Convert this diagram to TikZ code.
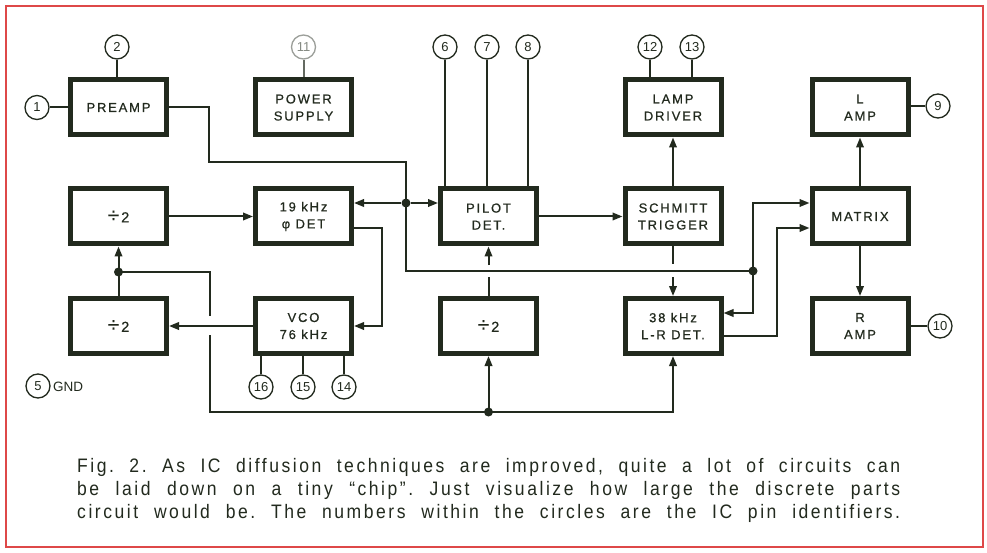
\documentclass[tikz,border=0pt]{standalone}
\usepackage{fontspec}
\setmainfont{Liberation Sans}
\newfontfamily\boxfont[LetterSpace=14,FakeBold=0.6]{Liberation Sans}
\newfontfamily\capfont[LetterSpace=13,FakeStretch=0.9]{Liberation Sans}
\usetikzlibrary{arrows.meta,calc}
\definecolor{ink}{RGB}{34,42,30}
\definecolor{frame}{RGB}{222,72,72}
\newcommand{\divtwo}{{\fontsize{21}{17}\selectfont ÷}\kern2pt{\fontsize{14.5}{17}\selectfont 2}}
\begin{document}
\frenchspacing
\begin{tikzpicture}[x=1pt,y=-1pt,
  blk/.style={draw=ink, line width=5pt, fill=white, minimum width=96pt, minimum height=55pt,
    inner sep=0pt, align=center, text=ink, font=\boxfont\fontsize{13}{17}\selectfont},
  pin/.style={circle, draw=ink, line width=1.3pt, minimum size=24pt, inner sep=0pt, fill=white,
    text=ink, font=\fontsize{13}{13}\selectfont},
  wire/.style={draw=ink, line width=2pt},
  arr/.style={wire, -{Triangle[length=10pt,width=7.5pt]}},
  dot/.style={circle, fill=ink, inner sep=0pt, minimum size=9pt},
  capline/.style={anchor=base west, inner sep=0pt, text=ink, font=\capfont\fontsize{19.5}{23}\selectfont}]
\useasboundingbox (0,0) rectangle (987,553);
\fill[white] (0,0) rectangle (987,553);
\draw[frame, line width=2.5pt] (6,6) rectangle (983,547);

% blocks
\node[blk] (preamp) at (118.5,107.5) {PREAMP};
\node[blk] (power)  at (303.5,107.5) {POWER\\SUPPLY};
\node[blk] (div2a)  at (118.5,216.5) {\divtwo};
\node[blk] (det19)  at (303.5,216.5) {19 kHz\\φ DET};
\node[blk] (pilot)  at (488.5,216.5) {PILOT\\DET.};
\node[blk] (schmitt) at (673,216.5) {SCHMITT\\TRIGGER};
\node[blk] (ldrv)   at (673,107.5) {LAMP\\DRIVER};
\node[blk] (lamp)   at (860,107.5) {L\\AMP};
\node[blk] (mtx)    at (860,216.5) {MATRIX};
\node[blk] (ramp)   at (860,326) {R\\AMP};
\node[blk] (lr38)   at (673,326) {38 kHz\\L-R DET.};
\node[blk] (div2m)  at (488.5,326) {\divtwo};
\node[blk] (vco)    at (303.5,326) {VCO\\76 kHz};
\node[blk] (div2b)  at (118.5,326) {\divtwo};

% pins
\node[pin] (p1)  at (37,107.5) {1};
\node[pin] (p2)  at (117,47) {2};
\node[pin, draw=ink!45, text=ink!55] (p11) at (303.5,47) {11};
\node[pin] (p6)  at (445,47) {6};
\node[pin] (p7)  at (487,47) {7};
\node[pin] (p8)  at (528,47) {8};
\node[pin] (p12) at (650,47) {12};
\node[pin] (p13) at (692,47) {13};
\node[pin] (p9)  at (938,106) {9};
\node[pin] (p10) at (940,326) {10};
\node[pin] (p16) at (261,387) {16};
\node[pin] (p15) at (303,387) {15};
\node[pin] (p14) at (344,387) {14};
\node[pin] (p5)  at (38,386) {5};
\node[anchor=west, inner sep=0pt, text=ink, font=\fontsize{13.5}{13.5}\selectfont] (gnd) at (53,386.5) {GND};

% pin wires
\draw[wire] (p1) -- (p1 -| preamp.west);
\draw[wire] (p2) -- (p2 |- preamp.north);
\draw[wire, draw=ink!70] (p11) -- (p11 |- power.north);
\foreach \p in {p6,p7,p8} \draw[wire, line width=1.6pt] (\p) -- (\p |- pilot.north);
\foreach \p in {p12,p13} \draw[wire] (\p) -- (\p |- ldrv.north);
\draw[wire] (p9) -- (p9 -| lamp.east);
\draw[wire] (p10) -- (p10 -| ramp.east);
\foreach \p in {p16,p15,p14} \draw[wire] (\p) -- (\p |- vco.south);

% junctions
\node[dot] (j1) at (406,203) {};
\node[dot] (j2) at (753,271) {};
\node[dot] (j3) at (118.5,272) {};
\node[dot] (j4) at (488.5,412) {};

% signal paths
\draw[wire] (preamp.east) -| (209,162) -| (j1.center);
\draw[arr] (j1) -- (j1 -| det19.east);
\draw[arr] (j1) -- (j1 -| pilot.west);
\draw[wire] (j1.center) |- (j2.center);
\draw[arr] (j2.center) |- (mtx.west |- 0,203);
\draw[arr] (j2.center) |- (lr38.east |- 0,313);
\draw[arr] (lr38.east |- 0,336) -| (777,228) -- (mtx.west |- 0,228);
\draw[arr] (mtx.north) -- (lamp.south);
\draw[arr] (mtx.south) -- (ramp.north);
\draw[arr] (schmitt.north) -- (ldrv.south);
\draw[wire] (schmitt.south) -- (schmitt.south |- 0,264);
\draw[arr] (schmitt.south |- 0,277) -- (lr38.north);
\draw[arr] (pilot.east) -- (schmitt.west);
\draw[arr] (div2a.east) -- (det19.west);
\draw[arr] (det19.east |- 0,228) -| (382,326) -- (vco.east);
\draw[arr] (vco.west) -- (div2b.east);
\draw[arr] (div2b.north) -- (div2a.south);
\draw[wire] (j3.center) -| (210,316);
\draw[wire] (210,335) |- (j4.center);
\draw[arr] (j4.center) -- (div2m.south);
\draw[arr] (j4.center) -| (lr38.south);
\draw[wire] (div2m.north) -- (div2m.north |- 0,277);
\draw[arr] (div2m.north |- 0,265) -- (pilot.south);

% caption
\node[capline] (cap1) at (77,472) {\makebox[823pt][s]{Fig. 2. As IC diffusion techniques are improved, quite a lot of circuits can}};
\node[capline] (cap2) at (77,495) {\makebox[823pt][s]{be laid down on a tiny “chip”. Just visualize how large the discrete parts}};
\node[capline] (cap3) at (77,518) {\makebox[823pt][s]{circuit would be. The numbers within the circles are the IC pin identifiers.}};
\end{tikzpicture}
\end{document}
